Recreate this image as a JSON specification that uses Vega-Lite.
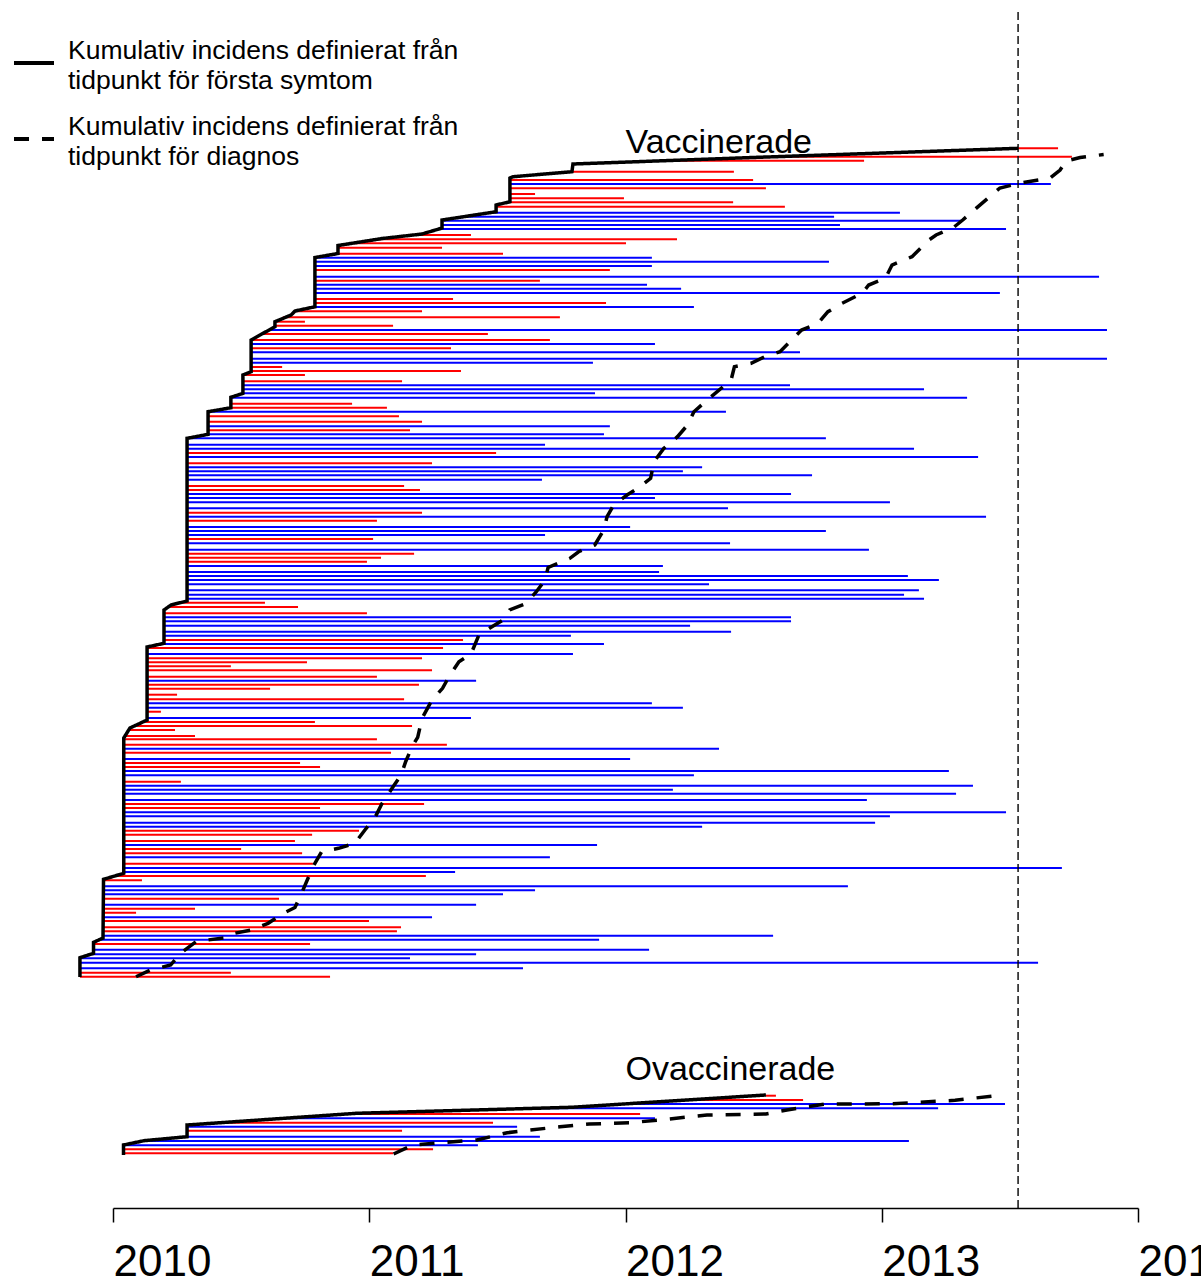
{
"$schema":"https://vega.github.io/schema/vega-lite/v6.json",
"width":1025,"height":1196,
"autosize":{"type":"none"},
"padding":{"left":113,"top":12,"right":63,"bottom":71},
"config":{"view":{"stroke":null},"font":"Liberation Sans"},
"datasets":{
"pat":[
{"g":"V","v":255.35,"s":2013.532,"e":2013.688,"st":"händelse"},
{"g":"V","v":253.33,"s":2012.583,"e":2013.742,"st":"händelse"},
{"g":"V","v":252.36,"s":2012.150,"e":2012.931,"st":"händelse"},
{"g":"V","v":249.71,"s":2011.791,"e":2012.423,"st":"händelse"},
{"g":"V","v":247.71,"s":2011.549,"e":2012.498,"st":"händelse"},
{"g":"V","v":246.75,"s":2011.549,"e":2013.660,"st":"censurerad"},
{"g":"V","v":245.71,"s":2011.549,"e":2012.548,"st":"händelse"},
{"g":"V","v":244.34,"s":2011.549,"e":2011.647,"st":"händelse"},
{"g":"V","v":243.30,"s":2011.549,"e":2011.994,"st":"händelse"},
{"g":"V","v":242.34,"s":2011.541,"e":2012.420,"st":"händelse"},
{"g":"V","v":241.28,"s":2011.495,"e":2012.622,"st":"händelse"},
{"g":"V","v":239.83,"s":2011.471,"e":2013.071,"st":"censurerad"},
{"g":"V","v":238.87,"s":2011.370,"e":2012.814,"st":"censurerad"},
{"g":"V","v":237.90,"s":2011.284,"e":2013.317,"st":"censurerad"},
{"g":"V","v":236.87,"s":2011.284,"e":2012.837,"st":"censurerad"},
{"g":"V","v":235.90,"s":2011.272,"e":2013.485,"st":"censurerad"},
{"g":"V","v":234.46,"s":2011.171,"e":2011.397,"st":"händelse"},
{"g":"V","v":233.42,"s":2011.030,"e":2012.201,"st":"händelse"},
{"g":"V","v":232.46,"s":2010.933,"e":2012.002,"st":"händelse"},
{"g":"V","v":231.40,"s":2010.878,"e":2011.284,"st":"händelse"},
{"g":"V","v":229.95,"s":2010.878,"e":2011.522,"st":"händelse"},
{"g":"V","v":228.99,"s":2010.788,"e":2012.103,"st":"censurerad"},
{"g":"V","v":228.02,"s":2010.788,"e":2012.794,"st":"censurerad"},
{"g":"V","v":226.99,"s":2010.788,"e":2012.103,"st":"censurerad"},
{"g":"V","v":226.02,"s":2010.788,"e":2011.939,"st":"händelse"},
{"g":"V","v":224.41,"s":2010.788,"e":2013.848,"st":"censurerad"},
{"g":"V","v":223.45,"s":2010.788,"e":2011.666,"st":"händelse"},
{"g":"V","v":222.48,"s":2010.788,"e":2012.084,"st":"censurerad"},
{"g":"V","v":221.52,"s":2010.788,"e":2012.217,"st":"censurerad"},
{"g":"V","v":220.48,"s":2010.788,"e":2013.461,"st":"censurerad"},
{"g":"V","v":219.04,"s":2010.788,"e":2011.327,"st":"händelse"},
{"g":"V","v":218.07,"s":2010.788,"e":2011.924,"st":"händelse"},
{"g":"V","v":217.11,"s":2010.788,"e":2012.267,"st":"censurerad"},
{"g":"V","v":216.07,"s":2010.710,"e":2011.206,"st":"händelse"},
{"g":"V","v":214.63,"s":2010.663,"e":2011.744,"st":"händelse"},
{"g":"V","v":213.57,"s":2010.632,"e":2010.749,"st":"händelse"},
{"g":"V","v":212.60,"s":2010.632,"e":2011.093,"st":"händelse"},
{"g":"V","v":211.57,"s":2010.609,"e":2013.879,"st":"censurerad"},
{"g":"V","v":210.60,"s":2010.581,"e":2011.463,"st":"händelse"},
{"g":"V","v":209.16,"s":2010.539,"e":2011.705,"st":"händelse"},
{"g":"V","v":208.19,"s":2010.539,"e":2012.115,"st":"censurerad"},
{"g":"V","v":207.16,"s":2010.539,"e":2011.319,"st":"händelse"},
{"g":"V","v":206.19,"s":2010.539,"e":2012.681,"st":"censurerad"},
{"g":"V","v":204.65,"s":2010.539,"e":2013.879,"st":"censurerad"},
{"g":"V","v":203.69,"s":2010.539,"e":2011.873,"st":"censurerad"},
{"g":"V","v":202.65,"s":2010.539,"e":2010.660,"st":"händelse"},
{"g":"V","v":201.69,"s":2010.539,"e":2011.358,"st":"händelse"},
{"g":"V","v":200.72,"s":2010.507,"e":2010.749,"st":"händelse"},
{"g":"V","v":199.20,"s":2010.507,"e":2011.128,"st":"händelse"},
{"g":"V","v":198.24,"s":2010.507,"e":2012.642,"st":"censurerad"},
{"g":"V","v":197.28,"s":2010.507,"e":2013.165,"st":"censurerad"},
{"g":"V","v":196.31,"s":2010.507,"e":2011.881,"st":"censurerad"},
{"g":"V","v":195.25,"s":2010.460,"e":2013.333,"st":"censurerad"},
{"g":"V","v":193.81,"s":2010.460,"e":2010.933,"st":"händelse"},
{"g":"V","v":192.84,"s":2010.460,"e":2011.069,"st":"händelse"},
{"g":"V","v":191.88,"s":2010.371,"e":2012.392,"st":"censurerad"},
{"g":"V","v":190.77,"s":2010.371,"e":2011.116,"st":"händelse"},
{"g":"V","v":189.47,"s":2010.371,"e":2011.206,"st":"händelse"},
{"g":"V","v":188.36,"s":2010.371,"e":2011.939,"st":"censurerad"},
{"g":"V","v":187.40,"s":2010.371,"e":2011.159,"st":"händelse"},
{"g":"V","v":186.43,"s":2010.371,"e":2011.916,"st":"censurerad"},
{"g":"V","v":185.47,"s":2010.289,"e":2012.782,"st":"censurerad"},
{"g":"V","v":183.93,"s":2010.289,"e":2011.686,"st":"censurerad"},
{"g":"V","v":182.96,"s":2010.289,"e":2013.126,"st":"censurerad"},
{"g":"V","v":181.93,"s":2010.289,"e":2011.495,"st":"händelse"},
{"g":"V","v":180.96,"s":2010.289,"e":2013.376,"st":"censurerad"},
{"g":"V","v":179.45,"s":2010.289,"e":2011.245,"st":"händelse"},
{"g":"V","v":178.48,"s":2010.289,"e":2012.299,"st":"censurerad"},
{"g":"V","v":177.52,"s":2010.289,"e":2012.224,"st":"censurerad"},
{"g":"V","v":176.55,"s":2010.289,"e":2012.728,"st":"censurerad"},
{"g":"V","v":175.49,"s":2010.289,"e":2011.674,"st":"censurerad"},
{"g":"V","v":173.98,"s":2010.289,"e":2011.136,"st":"händelse"},
{"g":"V","v":173.01,"s":2010.289,"e":2011.198,"st":"händelse"},
{"g":"V","v":172.05,"s":2010.289,"e":2012.646,"st":"censurerad"},
{"g":"V","v":171.08,"s":2010.289,"e":2012.115,"st":"censurerad"},
{"g":"V","v":170.05,"s":2010.289,"e":2013.032,"st":"censurerad"},
{"g":"V","v":168.60,"s":2010.289,"e":2012.400,"st":"censurerad"},
{"g":"V","v":167.54,"s":2010.289,"e":2011.206,"st":"händelse"},
{"g":"V","v":166.58,"s":2010.289,"e":2013.407,"st":"censurerad"},
{"g":"V","v":165.61,"s":2010.289,"e":2011.030,"st":"händelse"},
{"g":"V","v":164.10,"s":2010.289,"e":2012.018,"st":"censurerad"},
{"g":"V","v":163.13,"s":2010.289,"e":2012.782,"st":"censurerad"},
{"g":"V","v":162.17,"s":2010.289,"e":2011.686,"st":"censurerad"},
{"g":"V","v":161.20,"s":2010.289,"e":2011.015,"st":"händelse"},
{"g":"V","v":160.17,"s":2010.289,"e":2012.408,"st":"censurerad"},
{"g":"V","v":158.63,"s":2010.289,"e":2012.950,"st":"censurerad"},
{"g":"V","v":157.66,"s":2010.289,"e":2011.175,"st":"händelse"},
{"g":"V","v":156.70,"s":2010.289,"e":2011.046,"st":"händelse"},
{"g":"V","v":155.73,"s":2010.289,"e":2010.991,"st":"händelse"},
{"g":"V","v":154.70,"s":2010.289,"e":2012.146,"st":"censurerad"},
{"g":"V","v":153.25,"s":2010.289,"e":2012.131,"st":"censurerad"},
{"g":"V","v":152.29,"s":2010.289,"e":2013.102,"st":"censurerad"},
{"g":"V","v":151.33,"s":2010.289,"e":2013.223,"st":"censurerad"},
{"g":"V","v":150.29,"s":2010.289,"e":2012.326,"st":"censurerad"},
{"g":"V","v":148.84,"s":2010.289,"e":2013.145,"st":"censurerad"},
{"g":"V","v":147.78,"s":2010.289,"e":2013.087,"st":"censurerad"},
{"g":"V","v":146.82,"s":2010.289,"e":2013.165,"st":"censurerad"},
{"g":"V","v":145.86,"s":2010.261,"e":2010.593,"st":"händelse"},
{"g":"V","v":144.82,"s":2010.215,"e":2010.722,"st":"händelse"},
{"g":"V","v":143.30,"s":2010.199,"e":2010.991,"st":"händelse"},
{"g":"V","v":142.34,"s":2010.199,"e":2012.646,"st":"censurerad"},
{"g":"V","v":141.37,"s":2010.199,"e":2012.646,"st":"censurerad"},
{"g":"V","v":140.31,"s":2010.199,"e":2012.252,"st":"censurerad"},
{"g":"V","v":138.87,"s":2010.199,"e":2012.412,"st":"censurerad"},
{"g":"V","v":137.90,"s":2010.199,"e":2011.787,"st":"censurerad"},
{"g":"V","v":136.87,"s":2010.199,"e":2011.366,"st":"händelse"},
{"g":"V","v":135.90,"s":2010.191,"e":2011.916,"st":"censurerad"},
{"g":"V","v":134.94,"s":2010.133,"e":2011.288,"st":"händelse"},
{"g":"V","v":133.49,"s":2010.133,"e":2011.795,"st":"censurerad"},
{"g":"V","v":132.46,"s":2010.133,"e":2011.206,"st":"händelse"},
{"g":"V","v":131.49,"s":2010.133,"e":2010.757,"st":"händelse"},
{"g":"V","v":130.53,"s":2010.133,"e":2010.460,"st":"händelse"},
{"g":"V","v":129.57,"s":2010.133,"e":2011.245,"st":"händelse"},
{"g":"V","v":128.02,"s":2010.133,"e":2011.030,"st":"händelse"},
{"g":"V","v":127.06,"s":2010.133,"e":2011.417,"st":"censurerad"},
{"g":"V","v":126.10,"s":2010.133,"e":2011.194,"st":"händelse"},
{"g":"V","v":125.13,"s":2010.133,"e":2010.613,"st":"händelse"},
{"g":"V","v":123.69,"s":2010.133,"e":2010.250,"st":"händelse"},
{"g":"V","v":122.58,"s":2010.133,"e":2011.136,"st":"händelse"},
{"g":"V","v":121.61,"s":2010.133,"e":2012.103,"st":"censurerad"},
{"g":"V","v":120.55,"s":2010.133,"e":2012.224,"st":"censurerad"},
{"g":"V","v":119.59,"s":2010.133,"e":2010.187,"st":"händelse"},
{"g":"V","v":118.07,"s":2010.133,"e":2011.397,"st":"censurerad"},
{"g":"V","v":117.11,"s":2010.113,"e":2010.788,"st":"händelse"},
{"g":"V","v":116.14,"s":2010.090,"e":2011.167,"st":"händelse"},
{"g":"V","v":115.18,"s":2010.066,"e":2010.242,"st":"händelse"},
{"g":"V","v":113.73,"s":2010.047,"e":2010.320,"st":"händelse"},
{"g":"V","v":112.94,"s":2010.042,"e":2011.030,"st":"händelse"},
{"g":"V","v":111.64,"s":2010.042,"e":2011.303,"st":"händelse"},
{"g":"V","v":110.67,"s":2010.042,"e":2012.365,"st":"censurerad"},
{"g":"V","v":109.71,"s":2010.042,"e":2011.085,"st":"händelse"},
{"g":"V","v":108.19,"s":2010.042,"e":2012.018,"st":"censurerad"},
{"g":"V","v":107.23,"s":2010.042,"e":2010.730,"st":"händelse"},
{"g":"V","v":106.27,"s":2010.042,"e":2010.808,"st":"händelse"},
{"g":"V","v":105.30,"s":2010.042,"e":2013.262,"st":"censurerad"},
{"g":"V","v":104.27,"s":2010.042,"e":2012.267,"st":"censurerad"},
{"g":"V","v":102.72,"s":2010.042,"e":2010.265,"st":"händelse"},
{"g":"V","v":101.76,"s":2010.042,"e":2013.356,"st":"censurerad"},
{"g":"V","v":100.80,"s":2010.042,"e":2012.185,"st":"censurerad"},
{"g":"V","v":99.83,"s":2010.042,"e":2013.290,"st":"censurerad"},
{"g":"V","v":98.31,"s":2010.042,"e":2012.942,"st":"censurerad"},
{"g":"V","v":97.35,"s":2010.042,"e":2011.214,"st":"händelse"},
{"g":"V","v":96.39,"s":2010.042,"e":2010.808,"st":"händelse"},
{"g":"V","v":95.35,"s":2010.042,"e":2013.485,"st":"censurerad"},
{"g":"V","v":94.39,"s":2010.042,"e":2013.032,"st":"censurerad"},
{"g":"V","v":92.84,"s":2010.042,"e":2012.974,"st":"censurerad"},
{"g":"V","v":91.88,"s":2010.042,"e":2012.299,"st":"censurerad"},
{"g":"V","v":90.92,"s":2010.042,"e":2010.960,"st":"händelse"},
{"g":"V","v":89.95,"s":2010.042,"e":2010.777,"st":"händelse"},
{"g":"V","v":88.43,"s":2010.042,"e":2010.710,"st":"händelse"},
{"g":"V","v":87.47,"s":2010.042,"e":2011.889,"st":"censurerad"},
{"g":"V","v":86.51,"s":2010.042,"e":2010.500,"st":"händelse"},
{"g":"V","v":85.47,"s":2010.042,"e":2010.738,"st":"händelse"},
{"g":"V","v":84.51,"s":2010.042,"e":2011.705,"st":"censurerad"},
{"g":"V","v":82.96,"s":2010.042,"e":2010.780,"st":"händelse"},
{"g":"V","v":81.93,"s":2010.042,"e":2013.703,"st":"censurerad"},
{"g":"V","v":80.96,"s":2010.042,"e":2011.335,"st":"censurerad"},
{"g":"V","v":80.00,"s":2010.020,"e":2011.221,"st":"händelse"},
{"g":"V","v":78.96,"s":2009.963,"e":2010.113,"st":"händelse"},
{"g":"V","v":77.52,"s":2009.963,"e":2012.868,"st":"censurerad"},
{"g":"V","v":76.55,"s":2009.963,"e":2011.647,"st":"censurerad"},
{"g":"V","v":75.59,"s":2009.963,"e":2011.522,"st":"censurerad"},
{"g":"V","v":74.53,"s":2009.963,"e":2010.648,"st":"händelse"},
{"g":"V","v":73.08,"s":2009.963,"e":2011.417,"st":"censurerad"},
{"g":"V","v":72.12,"s":2009.963,"e":2010.320,"st":"händelse"},
{"g":"V","v":71.16,"s":2009.963,"e":2010.090,"st":"händelse"},
{"g":"V","v":70.05,"s":2009.963,"e":2011.245,"st":"censurerad"},
{"g":"V","v":69.16,"s":2009.963,"e":2010.999,"st":"händelse"},
{"g":"V","v":67.64,"s":2009.963,"e":2011.124,"st":"händelse"},
{"g":"V","v":66.67,"s":2009.963,"e":2011.108,"st":"händelse"},
{"g":"V","v":65.61,"s":2009.961,"e":2012.576,"st":"censurerad"},
{"g":"V","v":64.65,"s":2009.953,"e":2011.897,"st":"censurerad"},
{"g":"V","v":63.61,"s":2009.924,"e":2010.769,"st":"händelse"},
{"g":"V","v":62.24,"s":2009.924,"e":2012.092,"st":"censurerad"},
{"g":"V","v":61.13,"s":2009.906,"e":2011.417,"st":"censurerad"},
{"g":"V","v":60.17,"s":2009.871,"e":2011.159,"st":"censurerad"},
{"g":"V","v":59.11,"s":2009.871,"e":2013.610,"st":"censurerad"},
{"g":"V","v":57.76,"s":2009.871,"e":2011.600,"st":"censurerad"},
{"g":"V","v":56.70,"s":2009.871,"e":2010.460,"st":"händelse"},
{"g":"V","v":55.73,"s":2009.871,"e":2010.847,"st":"händelse"},
{"g":"O","v":27.06,"s":2012.548,"e":2012.587,"st":"händelse"},
{"g":"O","v":26.02,"s":2012.240,"e":2012.693,"st":"händelse"},
{"g":"O","v":25.06,"s":2011.993,"e":2013.481,"st":"censurerad"},
{"g":"O","v":24.02,"s":2011.650,"e":2013.220,"st":"censurerad"},
{"g":"O","v":22.65,"s":2010.909,"e":2012.057,"st":"händelse"},
{"g":"O","v":21.61,"s":2010.667,"e":2012.115,"st":"censurerad"},
{"g":"O","v":20.55,"s":2010.419,"e":2011.483,"st":"händelse"},
{"g":"O","v":19.59,"s":2010.289,"e":2011.577,"st":"censurerad"},
{"g":"O","v":18.63,"s":2010.289,"e":2011.128,"st":"händelse"},
{"g":"O","v":17.18,"s":2010.289,"e":2011.666,"st":"censurerad"},
{"g":"O","v":16.14,"s":2010.121,"e":2013.106,"st":"censurerad"},
{"g":"O","v":15.11,"s":2010.041,"e":2011.424,"st":"censurerad"},
{"g":"O","v":14.14,"s":2010.041,"e":2011.249,"st":"händelse"},
{"g":"O","v":13.18,"s":2010.041,"e":2011.093,"st":"händelse"}
],
"cum":[
{"g":"V","kind":"symtom","t":2009.871,"v":55.66},
{"g":"V","kind":"symtom","t":2009.871,"v":60.31},
{"g":"V","kind":"symtom","t":2009.924,"v":61.37},
{"g":"V","kind":"symtom","t":2009.924,"v":64.02},
{"g":"V","kind":"symtom","t":2009.961,"v":65.06},
{"g":"V","kind":"symtom","t":2009.963,"v":79.20},
{"g":"V","kind":"symtom","t":2010.042,"v":80.65},
{"g":"V","kind":"symtom","t":2010.042,"v":113.25},
{"g":"V","kind":"symtom","t":2010.066,"v":115.66},
{"g":"V","kind":"symtom","t":2010.133,"v":117.59},
{"g":"V","kind":"symtom","t":2010.133,"v":135.18},
{"g":"V","kind":"symtom","t":2010.199,"v":136.07},
{"g":"V","kind":"symtom","t":2010.199,"v":144.10},
{"g":"V","kind":"symtom","t":2010.226,"v":145.30},
{"g":"V","kind":"symtom","t":2010.289,"v":146.27},
{"g":"V","kind":"symtom","t":2010.289,"v":185.47},
{"g":"V","kind":"symtom","t":2010.371,"v":186.43},
{"g":"V","kind":"symtom","t":2010.371,"v":191.88},
{"g":"V","kind":"symtom","t":2010.460,"v":192.84},
{"g":"V","kind":"symtom","t":2010.460,"v":195.35},
{"g":"V","kind":"symtom","t":2010.507,"v":196.31},
{"g":"V","kind":"symtom","t":2010.507,"v":200.72},
{"g":"V","kind":"symtom","t":2010.539,"v":201.52},
{"g":"V","kind":"symtom","t":2010.539,"v":209.16},
{"g":"V","kind":"symtom","t":2010.632,"v":212.36},
{"g":"V","kind":"symtom","t":2010.632,"v":213.57},
{"g":"V","kind":"symtom","t":2010.695,"v":215.18},
{"g":"V","kind":"symtom","t":2010.710,"v":216.14},
{"g":"V","kind":"symtom","t":2010.788,"v":217.18},
{"g":"V","kind":"symtom","t":2010.788,"v":229.04},
{"g":"V","kind":"symtom","t":2010.878,"v":230.00},
{"g":"V","kind":"symtom","t":2010.878,"v":231.93},
{"g":"V","kind":"symtom","t":2011.050,"v":233.61},
{"g":"V","kind":"symtom","t":2011.206,"v":234.70},
{"g":"V","kind":"symtom","t":2011.284,"v":236.14},
{"g":"V","kind":"symtom","t":2011.284,"v":238.07},
{"g":"V","kind":"symtom","t":2011.495,"v":240.07},
{"g":"V","kind":"symtom","t":2011.495,"v":241.69},
{"g":"V","kind":"symtom","t":2011.549,"v":242.48},
{"g":"V","kind":"symtom","t":2011.549,"v":248.19},
{"g":"V","kind":"symtom","t":2011.561,"v":248.51},
{"g":"V","kind":"symtom","t":2011.791,"v":249.71},
{"g":"V","kind":"symtom","t":2011.795,"v":251.57},
{"g":"V","kind":"symtom","t":2012.525,"v":253.20},
{"g":"V","kind":"symtom","t":2013.532,"v":255.35},
{"g":"O","kind":"symtom","t":2010.041,"v":12.77},
{"g":"O","kind":"symtom","t":2010.041,"v":15.18},
{"g":"O","kind":"symtom","t":2010.121,"v":16.22},
{"g":"O","kind":"symtom","t":2010.289,"v":17.18},
{"g":"O","kind":"symtom","t":2010.289,"v":20.00},
{"g":"O","kind":"symtom","t":2010.950,"v":22.82},
{"g":"O","kind":"symtom","t":2011.790,"v":24.27},
{"g":"O","kind":"symtom","t":2012.548,"v":27.23},
{"g":"V","kind":"diagnos","t":2010.090,"v":55.73},
{"g":"V","kind":"diagnos","t":2010.146,"v":57.35},
{"g":"V","kind":"diagnos","t":2010.225,"v":58.55},
{"g":"V","kind":"diagnos","t":2010.264,"v":61.37},
{"g":"V","kind":"diagnos","t":2010.324,"v":64.17},
{"g":"V","kind":"diagnos","t":2010.369,"v":64.58},
{"g":"V","kind":"diagnos","t":2010.433,"v":65.06},
{"g":"V","kind":"diagnos","t":2010.474,"v":66.19},
{"g":"V","kind":"diagnos","t":2010.539,"v":66.99},
{"g":"V","kind":"diagnos","t":2010.605,"v":68.60},
{"g":"V","kind":"diagnos","t":2010.665,"v":71.01},
{"g":"V","kind":"diagnos","t":2010.710,"v":72.41},
{"g":"V","kind":"diagnos","t":2010.736,"v":75.83},
{"g":"V","kind":"diagnos","t":2010.761,"v":79.45},
{"g":"V","kind":"diagnos","t":2010.788,"v":83.06},
{"g":"V","kind":"diagnos","t":2010.814,"v":85.86},
{"g":"V","kind":"diagnos","t":2010.880,"v":86.67},
{"g":"V","kind":"diagnos","t":2010.944,"v":87.88},
{"g":"V","kind":"diagnos","t":2010.983,"v":91.08},
{"g":"V","kind":"diagnos","t":2011.024,"v":94.29},
{"g":"V","kind":"diagnos","t":2011.050,"v":97.52},
{"g":"V","kind":"diagnos","t":2011.089,"v":101.13},
{"g":"V","kind":"diagnos","t":2011.124,"v":104.34},
{"g":"V","kind":"diagnos","t":2011.142,"v":107.54},
{"g":"V","kind":"diagnos","t":2011.167,"v":111.16},
{"g":"V","kind":"diagnos","t":2011.189,"v":113.42},
{"g":"V","kind":"diagnos","t":2011.206,"v":118.00},
{"g":"V","kind":"diagnos","t":2011.245,"v":122.41},
{"g":"V","kind":"diagnos","t":2011.286,"v":125.23},
{"g":"V","kind":"diagnos","t":2011.311,"v":128.02},
{"g":"V","kind":"diagnos","t":2011.350,"v":131.64},
{"g":"V","kind":"diagnos","t":2011.397,"v":133.49},
{"g":"V","kind":"diagnos","t":2011.428,"v":138.07},
{"g":"V","kind":"diagnos","t":2011.469,"v":139.69},
{"g":"V","kind":"diagnos","t":2011.522,"v":141.69},
{"g":"V","kind":"diagnos","t":2011.548,"v":144.10},
{"g":"V","kind":"diagnos","t":2011.613,"v":145.71},
{"g":"V","kind":"diagnos","t":2011.652,"v":148.51},
{"g":"V","kind":"diagnos","t":2011.686,"v":151.33},
{"g":"V","kind":"diagnos","t":2011.698,"v":154.34},
{"g":"V","kind":"diagnos","t":2011.783,"v":156.55},
{"g":"V","kind":"diagnos","t":2011.817,"v":158.14},
{"g":"V","kind":"diagnos","t":2011.880,"v":159.76},
{"g":"V","kind":"diagnos","t":2011.915,"v":163.37},
{"g":"V","kind":"diagnos","t":2011.928,"v":166.58},
{"g":"V","kind":"diagnos","t":2011.954,"v":169.40},
{"g":"V","kind":"diagnos","t":2012.006,"v":171.81},
{"g":"V","kind":"diagnos","t":2012.053,"v":173.66},
{"g":"V","kind":"diagnos","t":2012.098,"v":175.83},
{"g":"V","kind":"diagnos","t":2012.111,"v":179.83},
{"g":"V","kind":"diagnos","t":2012.150,"v":183.06},
{"g":"V","kind":"diagnos","t":2012.203,"v":185.86},
{"g":"V","kind":"diagnos","t":2012.242,"v":188.67},
{"g":"V","kind":"diagnos","t":2012.267,"v":191.88},
{"g":"V","kind":"diagnos","t":2012.326,"v":195.06},
{"g":"V","kind":"diagnos","t":2012.412,"v":199.52},
{"g":"V","kind":"diagnos","t":2012.425,"v":202.72},
{"g":"V","kind":"diagnos","t":2012.490,"v":203.54},
{"g":"V","kind":"diagnos","t":2012.543,"v":205.13},
{"g":"V","kind":"diagnos","t":2012.603,"v":206.34},
{"g":"V","kind":"diagnos","t":2012.648,"v":209.16},
{"g":"V","kind":"diagnos","t":2012.687,"v":211.57},
{"g":"V","kind":"diagnos","t":2012.751,"v":213.18},
{"g":"V","kind":"diagnos","t":2012.790,"v":215.98},
{"g":"V","kind":"diagnos","t":2012.845,"v":218.00},
{"g":"V","kind":"diagnos","t":2012.923,"v":220.41},
{"g":"V","kind":"diagnos","t":2012.949,"v":222.41},
{"g":"V","kind":"diagnos","t":2013.014,"v":224.02},
{"g":"V","kind":"diagnos","t":2013.040,"v":227.23},
{"g":"V","kind":"diagnos","t":2013.118,"v":229.23},
{"g":"V","kind":"diagnos","t":2013.184,"v":233.25},
{"g":"V","kind":"diagnos","t":2013.212,"v":234.46},
{"g":"V","kind":"diagnos","t":2013.280,"v":236.27},
{"g":"V","kind":"diagnos","t":2013.316,"v":238.07},
{"g":"V","kind":"diagnos","t":2013.368,"v":240.89},
{"g":"V","kind":"diagnos","t":2013.461,"v":245.78},
{"g":"V","kind":"diagnos","t":2013.551,"v":247.11},
{"g":"V","kind":"diagnos","t":2013.657,"v":248.19},
{"g":"V","kind":"diagnos","t":2013.696,"v":250.12},
{"g":"V","kind":"diagnos","t":2013.719,"v":252.29},
{"g":"V","kind":"diagnos","t":2013.774,"v":253.13},
{"g":"V","kind":"diagnos","t":2013.866,"v":253.86},
{"g":"O","kind":"diagnos","t":2011.095,"v":13.01},
{"g":"O","kind":"diagnos","t":2011.169,"v":15.18},
{"g":"O","kind":"diagnos","t":2011.420,"v":16.39},
{"g":"O","kind":"diagnos","t":2011.538,"v":18.14},
{"g":"O","kind":"diagnos","t":2011.744,"v":19.59},
{"g":"O","kind":"diagnos","t":2011.858,"v":20.24},
{"g":"O","kind":"diagnos","t":2012.020,"v":20.55},
{"g":"O","kind":"diagnos","t":2012.158,"v":21.37},
{"g":"O","kind":"diagnos","t":2012.318,"v":22.41},
{"g":"O","kind":"diagnos","t":2012.548,"v":22.65},
{"g":"O","kind":"diagnos","t":2012.630,"v":23.61},
{"g":"O","kind":"diagnos","t":2012.779,"v":25.06},
{"g":"O","kind":"diagnos","t":2013.032,"v":25.10},
{"g":"O","kind":"diagnos","t":2013.286,"v":25.95},
{"g":"O","kind":"diagnos","t":2013.469,"v":27.23}
],
"ref":[{"t":2013.532}],
"lab":[
{"label":"Vaccinerade","t":2012.0,"v":254.2},
{"label":"Ovaccinerade","t":2012.0,"v":30.96}
]
},
"layer":[
{"data":{"name":"pat"},
 "mark":{"type":"rule","strokeWidth":2},
 "encoding":{
  "x":{"field":"s","type":"quantitative","scale":{"domain":[2010,2014],"nice":false,"zero":false},
   "axis":{"title":null,"values":[2010,2011,2012,2013,2014],"format":"d","grid":false,
     "labelFontSize":44,"labelFont":"Liberation Sans","labelColor":"black","labelAlign":"left","labelBaseline":"top",
     "labelPadding":18,"labelFlush":false,"labelOverlap":false,"labelBound":false,
     "tickSize":14,"tickWidth":1.5,"tickColor":"black","domainColor":"black","domainWidth":1.5}},
  "x2":{"field":"e"},
  "y":{"field":"v","type":"quantitative","scale":{"domain":[0,288.2],"nice":false,"zero":false},"axis":null},
  "color":{"field":"st","type":"nominal","scale":{"domain":["händelse","censurerad"],"range":["#ff0000","#0000ff"]},"legend":null}
 }},
{"data":{"name":"cum"},
 "mark":{"type":"line","color":"black","strokeWidth":3.5},
 "encoding":{
  "x":{"field":"t","type":"quantitative"},
  "y":{"field":"v","type":"quantitative"},
  "detail":{"field":"g"},
  "order":{"field":"v","type":"quantitative"},
  "strokeDash":{"field":"kind","type":"nominal",
   "scale":{"domain":["symtom","diagnos"],"range":[[1,0],[15,13]]},
   "legend":{"orient":"none","legendX":-101,"legendY":29,"title":null,"padding":0,
     "symbolType":"stroke","symbolSize":1600,"symbolStrokeWidth":4,"symbolStrokeColor":"black",
     "labelFontSize":26.5,"labelFont":"Liberation Sans","labelColor":"black","labelLimit":700,"labelOffset":12,
     "rowPadding":19,"labelBaseline":"middle",
     "labelExpr":"datum.value == 'symtom' ? ['Kumulativ incidens definierat från','tidpunkt för första symtom'] : ['Kumulativ incidens definierat från','tidpunkt för diagnos']",
     "encode":{"labels":{"update":{"dy":{"value":-12},"lineHeight":{"value":30}}}}}}
 }},
{"data":{"name":"ref"},
 "mark":{"type":"rule","color":"black","strokeWidth":1.4,"strokeDash":[8,4]},
 "encoding":{"x":{"field":"t","type":"quantitative"}}},
{"data":{"name":"lab"},
 "mark":{"type":"text","align":"left","baseline":"alphabetic","fontSize":34,"font":"Liberation Sans","color":"black"},
 "encoding":{
  "x":{"field":"t","type":"quantitative"},
  "y":{"field":"v","type":"quantitative"},
  "text":{"field":"label"}}}
]
}
